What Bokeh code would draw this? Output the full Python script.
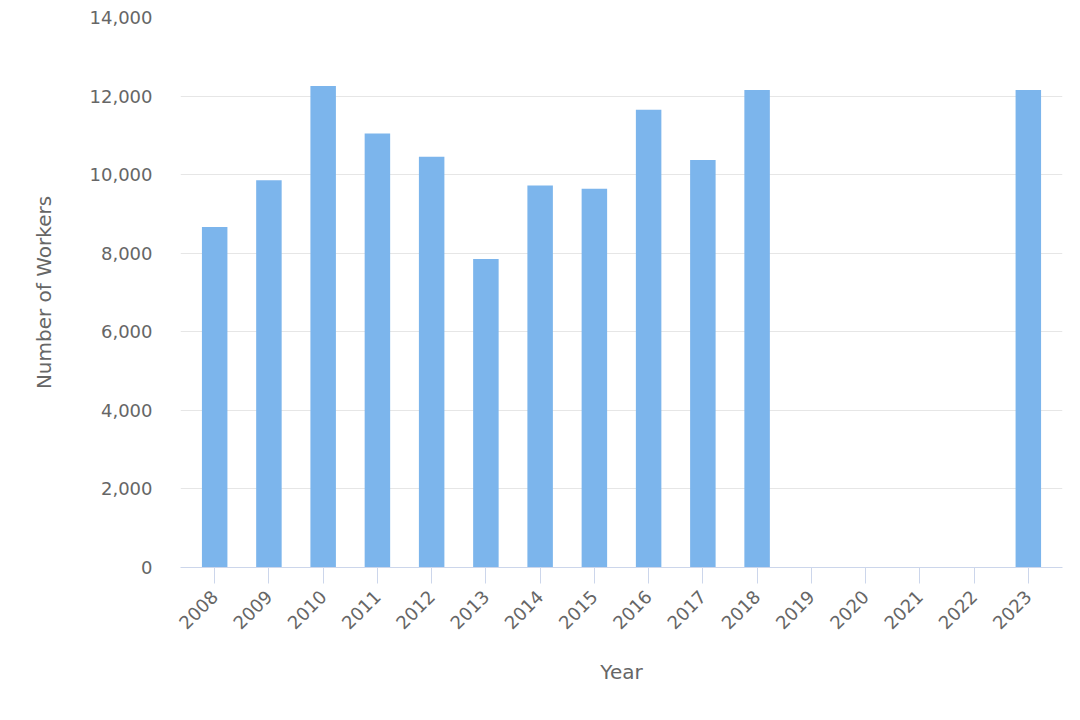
from bokeh.plotting import figure
from bokeh.models import Range1d, FixedTicker, NumeralTickFormatter
from bokeh.embed import file_html
from bokeh.resources import INLINE

years = [2008, 2009, 2010, 2011, 2012, 2013, 2014, 2015,
         2016, 2017, 2018, 2019, 2020, 2021, 2022, 2023]
workers = [8670, 9860, 12255, 11050, 10455, 7850, 9725, 9640,
           11650, 10370, 12155, 0, 0, 0, 0, 12155]
y_ticks = [0, 2000, 4000, 6000, 8000, 10000, 12000, 14000]

FONT = "DejaVu Sans"

p = figure(width=1072, height=712, output_backend="svg", toolbar_location=None,
           x_range=Range1d(2007.37, 2023.63), y_range=Range1d(0, 14000),
           min_border_left=180, min_border_right=10, min_border_top=17,
           min_border_bottom=145)
p.outline_line_color = None

p.vbar(x=years, top=workers, width=0.47, color="#7cb5ec", line_color=None)

# y axis
p.yaxis.ticker = FixedTicker(ticks=y_ticks)
p.yaxis.formatter = NumeralTickFormatter(format="0,0")
p.yaxis.axis_line_color = None
p.yaxis.major_tick_line_color = None
p.yaxis.major_tick_in = 0
p.yaxis.major_tick_out = 0
p.yaxis.minor_tick_line_color = None
p.yaxis.major_label_standoff = 28
p.yaxis.major_label_text_font = FONT
p.yaxis.major_label_text_font_size = "18px"
p.yaxis.major_label_text_color = "#666666"
p.yaxis.axis_label = "Number of Workers"
p.yaxis.axis_label_text_font = FONT
p.yaxis.axis_label_text_font_size = "20px"
p.yaxis.axis_label_text_font_style = "normal"
p.yaxis.axis_label_text_color = "#666666"
p.yaxis.axis_label_standoff = 31
p.ygrid.ticker = FixedTicker(ticks=y_ticks)
p.ygrid.grid_line_color = "#e6e6e6"
p.ygrid.grid_line_width = 1

# x axis
p.xaxis.ticker = FixedTicker(ticks=years)
p.xaxis.major_label_orientation = 0.785398
p.xaxis.axis_line_color = "#ccd6eb"
p.xaxis.axis_line_width = 1
p.xaxis.major_tick_line_color = "#ccd6eb"
p.xaxis.major_tick_in = 0
p.xaxis.major_tick_out = 16
p.xaxis.minor_tick_line_color = None
p.xaxis.major_label_standoff = 10
p.xaxis.major_label_text_font = FONT
p.xaxis.major_label_text_font_size = "18px"
p.xaxis.major_label_text_color = "#666666"
p.xaxis.axis_label = "Year"
p.xaxis.axis_label_text_font = FONT
p.xaxis.axis_label_text_font_size = "20px"
p.xaxis.axis_label_text_font_style = "normal"
p.xaxis.axis_label_text_color = "#666666"
p.xaxis.axis_label_standoff = 22
p.xgrid.grid_line_color = None

open("out.html", "w").write(file_html(p, INLINE))
